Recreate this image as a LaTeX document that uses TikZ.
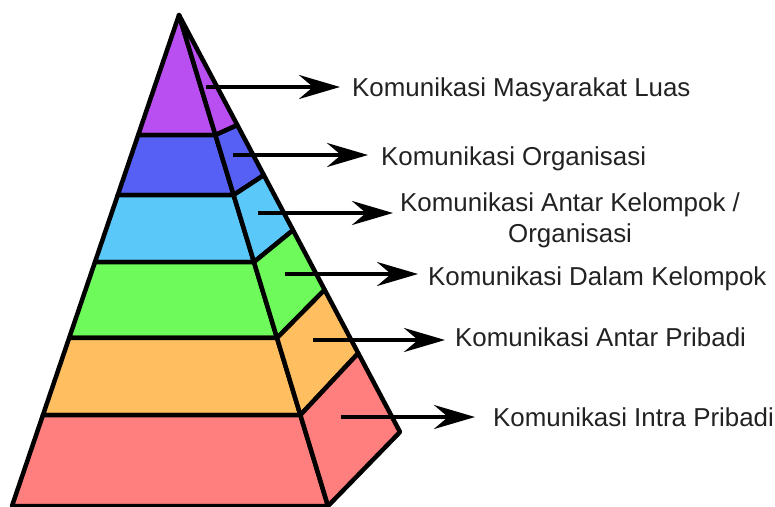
\documentclass[tikz,border=0pt]{standalone}
\usepackage{fontspec}
\setmainfont{Liberation Sans}
\usetikzlibrary{calc,arrows.meta}

\definecolor{lvpurple}{HTML}{B94FF1}
\definecolor{lvblue}{HTML}{5660F5}
\definecolor{lvcyan}{HTML}{5BC8FA}
\definecolor{lvgreen}{HTML}{6EFA5A}
\definecolor{lvorange}{HTML}{FFBE60}
\definecolor{lvred}{HTML}{FF7F7F}
\definecolor{labelgray}{HTML}{222222}

\tikzset{
  face/.style={draw=black, line width=4.5pt, line join=round},
  pointer/.style={draw=black, line width=4pt,
    -{Stealth[length=41pt,width=24pt,inset=14pt]}},
  levellabel/.style={inner sep=0pt, text=labelgray,
    font=\fontsize{25.9}{30.8}\selectfont}
}

\begin{document}
\begin{tikzpicture}[x=1pt,y=-1pt]
\useasboundingbox (0,0) rectangle (775,506);

% corners of the pyramid
\coordinate (A) at (179,15);   % apex
\coordinate (L) at (12,506);   % front left foot
\coordinate (M) at (328,506);  % front right foot (ridge)
\coordinate (B) at (400,432);  % back right corner

% level boundaries: left edge (P), ridge (R), right edge (Q)
\foreach \i/\t/\q in {1/0.2444/0.264, 2/0.3666/0.384, 3/0.5031/0.516,
                      4/0.6578/0.659, 5/0.8147/0.811, 6/1/1}{
  \coordinate (P\i) at ($(A)!\t!(L)$);
  \coordinate (R\i) at ($(A)!\t!(M)$);
  \coordinate (Q\i) at ($(A)!\q!(B)$);
}

% front faces
\path[face, fill=lvpurple] (A) -- (R1) -- (P1) -- cycle;
\path[face, fill=lvblue]   (P1) -- (R1) -- (R2) -- (P2) -- cycle;
\path[face, fill=lvcyan]   (P2) -- (R2) -- (R3) -- (P3) -- cycle;
\path[face, fill=lvgreen]  (P3) -- (R3) -- (R4) -- (P4) -- cycle;
\path[face, fill=lvorange] (P4) -- (R4) -- (R5) -- (P5) -- cycle;
\path[face, fill=lvred]    (P5) -- (R5) -- (R6) -- (P6) -- cycle;

% side faces
\path[face, fill=lvpurple] (A) -- (Q1) -- (R1) -- cycle;
\path[face, fill=lvblue]   (R1) -- (Q1) -- (Q2) -- (R2) -- cycle;
\path[face, fill=lvcyan]   (R2) -- (Q2) -- (Q3) -- (R3) -- cycle;
\path[face, fill=lvgreen]  (R3) -- (Q3) -- (Q4) -- (R4) -- cycle;
\path[face, fill=lvorange] (R4) -- (Q4) -- (Q5) -- (R5) -- cycle;
\path[face, fill=lvred]    (R5) -- (Q5) -- (Q6) -- (R6) -- cycle;

% labels
\node[levellabel, anchor=base west] (l1) at (352,96) {Komunikasi Masyarakat Luas};
\node[levellabel, anchor=base west] (l2) at (381,165) {Komunikasi Organisasi};
\node[levellabel, anchor=west, align=center] (l3) at (400,220)
  {Komunikasi Antar Kelompok /\\Organisasi};
\node[levellabel, anchor=base west] (l4) at (428,285) {Komunikasi Dalam Kelompok};
\node[levellabel, anchor=base west] (l5) at (455,346) {Komunikasi Antar Pribadi};
\node[levellabel, anchor=base west] (l6) at (493,426) {Komunikasi Intra Pribadi};

% arrow starts on the side faces
\coordinate (s1) at (206,87);
\coordinate (s2) at (233,155);
\coordinate (s3) at (258,213);
\coordinate (s4) at (285,274);
\coordinate (s5) at (313,340);
\coordinate (s6) at (341,417);

\draw[pointer, shorten >=12pt] (s1) -- (s1 -| l1.west);
\draw[pointer, shorten >=13pt] (s2) -- (s2 -| l2.west);
\draw[pointer, shorten >=7pt]  (s3) -- (s3 -| l3.west);
\draw[pointer, shorten >=10pt] (s4) -- (s4 -| l4.west);
\draw[pointer, shorten >=10pt] (s5) -- (s5 -| l5.west);
\draw[pointer, shorten >=18pt] (s6) -- (s6 -| l6.west);
\end{tikzpicture}
\end{document}
